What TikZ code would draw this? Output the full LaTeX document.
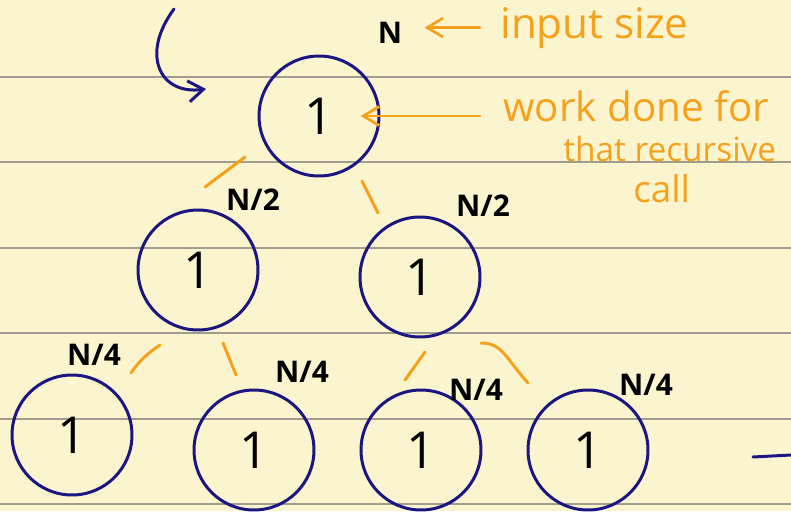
\documentclass[tikz,border=0pt]{standalone}
\usepackage{fontspec}
\setmainfont{Open Sans}
\usepackage{tikz}
\usetikzlibrary{arrows.meta}
\definecolor{paper}{HTML}{FBF5CF}
\definecolor{ruling}{HTML}{A09C8E}
\definecolor{inkblue}{HTML}{1C1681}
\definecolor{marker}{HTML}{F6A11C}

\begin{document}
\begin{tikzpicture}[
  x=0.02cm, y=-0.02cm,
  callnode/.style={circle, draw=inkblue, line width=0.06cm, minimum size=2.4cm, inner sep=0pt, font=\fontsize{29}{29}\selectfont},
  link/.style={marker, line width=0.06cm, line cap=round},
  arrow/.style={-{Straight Barb[length=0.32cm, width=0.38cm]}, marker, line width=0.055cm, line cap=round},
  pen/.style={inkblue, line width=0.06cm, line cap=round},
  sizelbl/.style={font=\fontsize{17}{17}\selectfont\bfseries, inner sep=0pt},
  notetext/.style={text=marker, font=\fontsize{23}{23}\selectfont, inner sep=0pt}
]
\useasboundingbox (0,0) rectangle (791,511);

% Paper
\fill[paper] (0,0) rectangle (791,511);
\foreach \y in {77,162,248,333,419,504}
  \draw[ruling, line width=0.03cm] (0,\y) -- (791,\y);

% Recursion tree
\node[callnode] (root) at (319,116) {1};
\node[callnode] (n2a) at (198,270) {1};
\node[callnode] (n2b) at (420,277) {1};
\node[callnode] (n3a) at (72,435) {1};
\node[callnode] (n3b) at (254,450) {1};
\node[callnode] (n3c) at (421,450) {1};
\node[callnode] (n3d) at (588,450) {1};

% Edges
\draw[link] ([shift={(-74,41)}]root.center) -- ([shift={(7,-83)}]n2a.center);
\draw[link] ([shift={(43,65)}]root.center) -- ([shift={(-42,-64)}]n2b.center);
\draw[link] ([shift={(-38,75)}]n2a.center) .. controls +(-12,8) and +(8,-12) .. ([shift={(59,-62)}]n3a.center);
\draw[link] ([shift={(25,73)}]n2a.center) -- ([shift={(-18,-75)}]n3b.center);
\draw[link] ([shift={(5,75)}]n2b.center) -- ([shift={(-16,-70)}]n3c.center);
\draw[link] ([shift={(61,66)}]n2b.center) .. controls +(22,0) and +(-22,-24) .. ([shift={(-60,-67)}]n3d.center);

% Input sizes
\node[sizelbl] (n) at (390,33) {N};
\node[sizelbl] (h1) at (253,200) {N/2};
\node[sizelbl] (h2) at (483,206) {N/2};
\node[sizelbl] (q1) at (94,355) {N/4};
\node[sizelbl] (q2) at (302,372) {N/4};
\node[sizelbl] (q3) at (476,390) {N/4};
\node[sizelbl] (q4) at (646,385) {N/4};

% Notes
\node[notetext, anchor=base west, font=\fontsize{24}{24}\selectfont] (input) at (500,38) {input size};
\node[notetext, anchor=north west, align=left] (work) at (503,90) {work done for\\\hspace*{1.2cm}{\fontsize{19}{23}\selectfont that recursive}\\\hspace*{2.6cm}{\fontsize{21}{23}\selectfont call}};
\draw[arrow, shorten <=0.4cm, shorten >=0.44cm] (input.west) -- (input.west -| n.east);
\draw[arrow, shorten <=0.46cm, shorten >=-0.4cm] (work.west |- root) -- (root.east);

% Pen strokes
\coordinate (hooktop) at (174,9);
\coordinate (hookend) at (206,89);
\draw[pen, -{Straight Barb[length=0.3cm, width=0.42cm]}] (hooktop) .. controls (140,55) and (160,95) .. (hookend);
\coordinate (stubl) at (753,457);
\coordinate (stubr) at (791,455);
\draw[pen] (stubl) -- (stubr);

\end{tikzpicture}
\end{document}
